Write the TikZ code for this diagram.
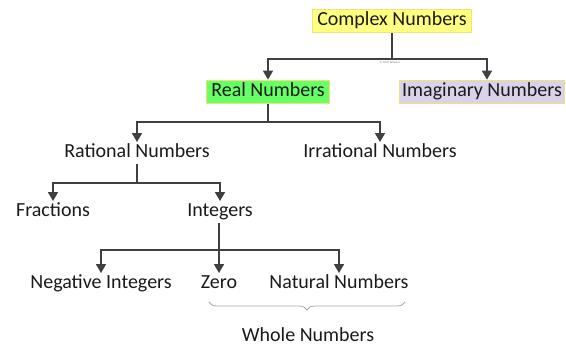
\documentclass[tikz,border=0pt]{standalone}
\usepackage{fontspec}
\setmainfont{Carlito}
\usetikzlibrary{arrows.meta,decorations.pathreplacing}
\definecolor{linec}{HTML}{404040}
\definecolor{cyel}{HTML}{FFFF80}
\definecolor{cbord}{HTML}{F2E07A}
\definecolor{cgreen}{HTML}{66FF66}
\definecolor{clav}{HTML}{D9D2E9}
\definecolor{txt}{HTML}{1A1A1A}
\begin{document}
\begin{tikzpicture}[x=1pt,y=-1pt,
  lbl/.style={font=\fontsize{20}{23}\selectfont, text=txt, inner sep=2pt, text height=13.5pt, text depth=4pt},
  boxed/.style={lbl, draw=cbord, line width=1.2pt, inner xsep=5pt, inner ysep=3pt},
  arr/.style={draw=linec, line width=1.6pt, -{Triangle[width=10pt,length=9pt]}},
  ln/.style={draw=linec, line width=1.6pt}]
\useasboundingbox (0,0) rectangle (566,347);
% nodes
\node[boxed, fill=cyel] (complex) at (392,21) {Complex Numbers};
\node[boxed, fill=cgreen] (real) at (268,92) {Real Numbers};
\node[boxed, fill=clav, inner xsep=3pt, anchor=east] (imag) at (565.4,92) {Imaginary Numbers};
\node[lbl] (rational) at (137,153) {Rational Numbers};
\node[lbl] (irrational) at (380,153) {Irrational Numbers};
\node[lbl] (fractions) at (53,212) {Fractions};
\node[lbl] (integers) at (220,212) {Integers};
\node[lbl] (negint) at (101,284) {Negative Integers};
\node[lbl] (zero) at (219,284) {Zero};
\node[lbl] (natural) at (339,284) {Natural Numbers};
\node[lbl] (whole) at (308,337) {Whole Numbers};
\node[font=\fontsize{3}{3}\selectfont, text=gray, inner sep=0pt] (copy) at (390,62) {© Yardi Tatmono};
% junctions
\coordinate (j1) at (392,59);
\coordinate (j2) at (268,122);
\coordinate (j3) at (137,183);
\coordinate (j4) at (219,250);
% connectors
\draw[ln] (complex.south) -- (j1);
\draw[arr] (j1) -| (real.north);
\draw[arr] (j1) -| ([xshift=5pt]imag.north);
\draw[ln] (real.south) -- (j2);
\draw[arr] (j2) -| (rational.north);
\draw[arr] (j2) -| (irrational.north);
\draw[ln] (rational.south) -- (j3);
\draw[arr] (j3) -| (fractions.north);
\draw[arr] (j3) -| (integers.north);
\draw[ln] ([xshift=-1pt]integers.south) -- (j4);
\draw[arr] (j4) -| (negint.north);
\draw[arr] (j4) -- (zero.north);
\draw[arr] (j4) -| (natural.north);
% brace
\coordinate (bl) at (209,302);
\coordinate (br) at (405,302);
\draw[draw=gray!70, line width=0.8pt, decorate, decoration={brace, mirror, amplitude=8pt}] (bl) -- (br);
\end{tikzpicture}
\end{document}
